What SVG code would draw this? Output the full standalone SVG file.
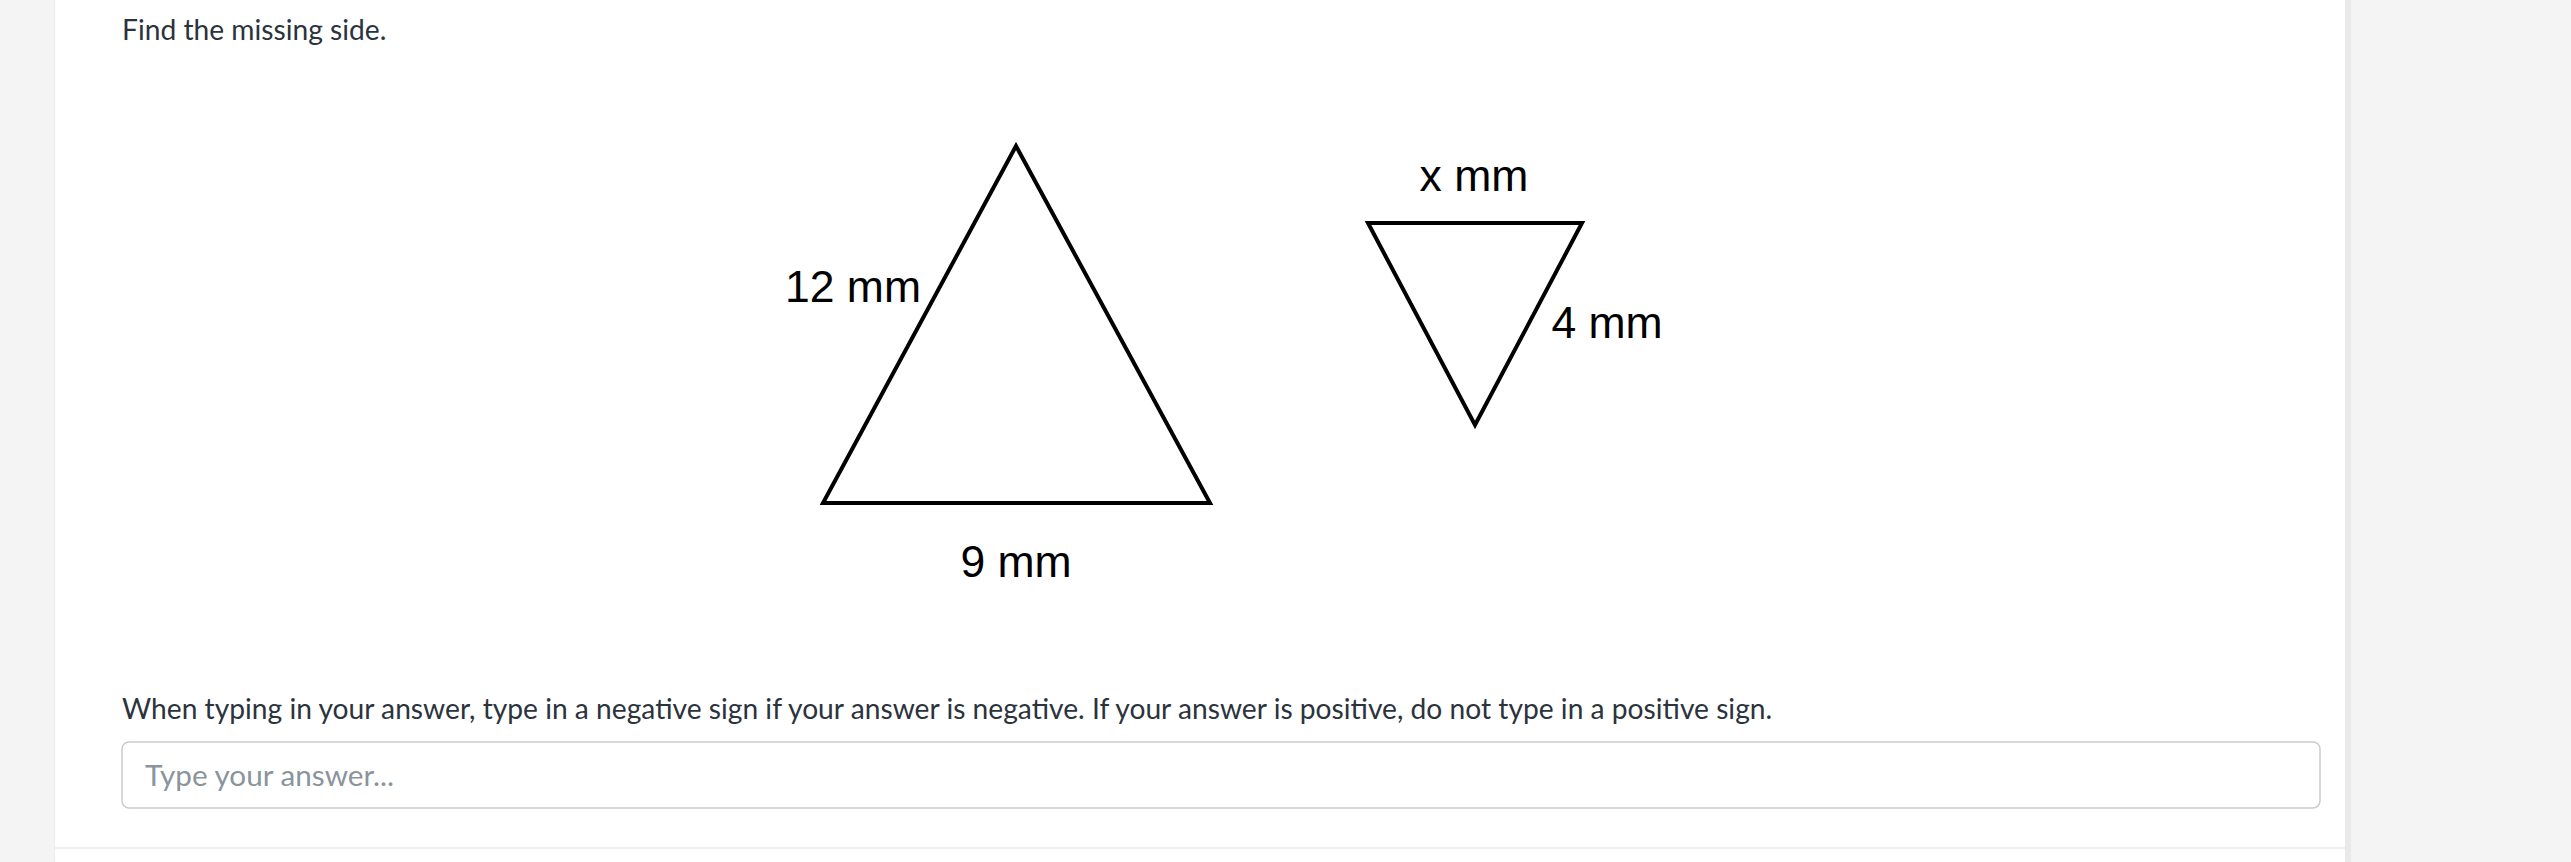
<svg xmlns="http://www.w3.org/2000/svg" width="2571" height="862" viewBox="0 0 2571 862">
<style>
.ui{font-family:Lato,"Open Sans","Liberation Sans",sans-serif;font-size:28.2px;fill:#2b333d}
.ph{font-family:Lato,"Open Sans","Liberation Sans",sans-serif;font-size:29.7px;fill:#8a949c}
.lbl{font-family:"Liberation Sans",Arial,sans-serif;font-size:44.5px;fill:#000;text-anchor:middle}
.tri{fill:#fff;stroke:#000;stroke-width:4;stroke-linejoin:miter}
</style>
<rect x="0" y="0" width="2571" height="862" fill="#f4f4f4"/>
<rect x="2345" y="0" width="6" height="862" fill="#e9e9e9"/>
<rect x="54" y="0" width="2" height="862" fill="#ececec"/>
<rect x="55" y="0" width="2290" height="862" fill="#ffffff"/>
<line x1="55" y1="848" x2="2345" y2="848" stroke="#f0f0f0" stroke-width="2"/>
<text class="ui" x="122" y="40">Find the missing side.</text>
<g id="triangle-large">
<polygon class="tri" points="1016,146 823,503 1210,503"/>
<text class="lbl" x="853" y="302">12 mm</text>
<text class="lbl" x="1016" y="577">9 mm</text>
</g>
<g id="triangle-small">
<polygon class="tri" points="1368,223 1582,223 1475,425"/>
<text class="lbl" x="1474" y="191">x mm</text>
<text class="lbl" x="1607" y="338">4 mm</text>
</g>
<g id="connectors"></g>
<text class="ui" x="122" y="719">When typing in your answer, type in a negative sign if your answer is negative. If your answer is positive, do not type in a positive sign.</text>
<g id="answer-box">
<rect x="122" y="742" width="2198" height="66" rx="7" ry="7" fill="#fff" stroke="#cbcbcb" stroke-width="1.5"/>
<text class="ph" x="145" y="786">Type your answer...</text>
</g>
</svg>
